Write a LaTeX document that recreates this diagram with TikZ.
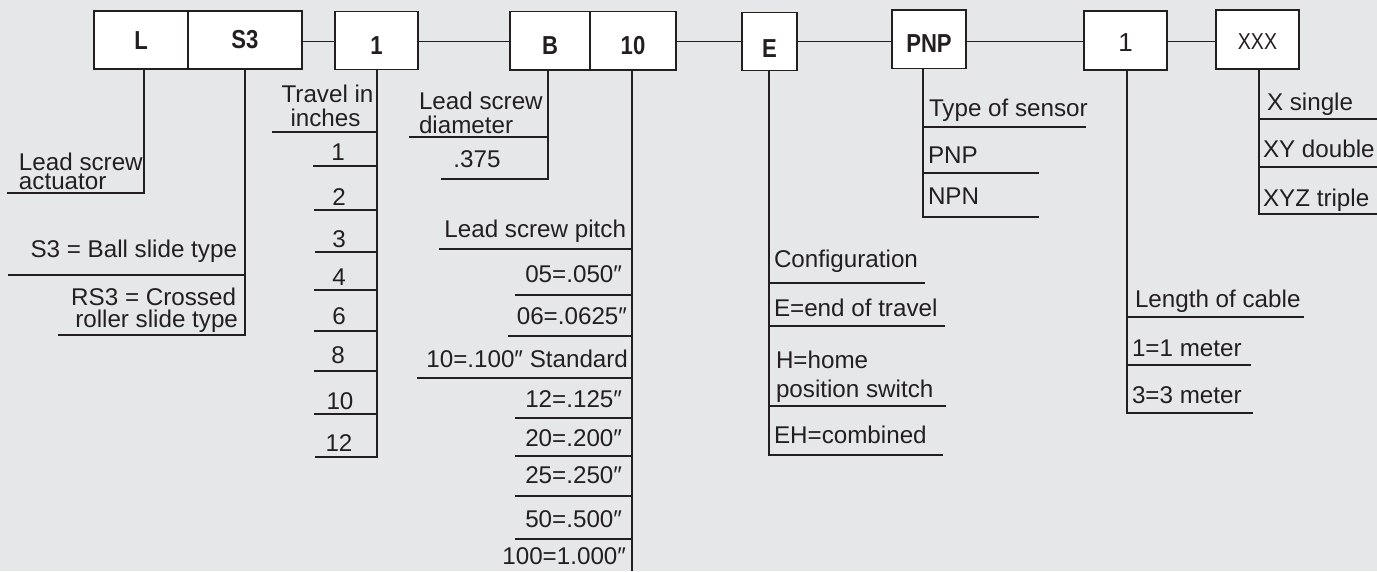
\documentclass[tikz,border=0pt]{standalone}
\usepackage{fontspec}
\setmainfont{Liberation Sans}
\usepackage{graphicx}
\definecolor{bg}{HTML}{E6E7E8}
\definecolor{ink}{HTML}{231F20}
\newcommand\cond[1]{\scalebox{0.85}[1]{#1}}
\tikzset{
  box/.style={draw=ink, fill=white, line width=1.5pt, inner sep=0pt, outer sep=0pt,
    text depth=0pt, text=ink, font=\fontsize{26}{26}\selectfont\bfseries},
  ln/.style={draw=ink, line width=1.3pt},
  lab/.style={inner sep=0pt, outer sep=0pt, text=ink, font=\fontsize{24.2}{24.2}\selectfont},
}
\begin{document}
\begin{tikzpicture}[x=1pt,y=-1pt]
\fill[bg] (0,0) rectangle (1377,571);
\useasboundingbox (0,0) rectangle (1377,571);

% ---- code boxes
\node[box, minimum width=94pt, minimum height=58pt, text height=18pt] (L) at (141,40) {\cond{L}};
\node[box, minimum width=114pt, minimum height=58pt, text height=17pt] (S3) at (245,40) {\cond{S3}};
\node[box, minimum width=83pt, minimum height=58pt, text height=27pt] (T1) at (376.5,40.5) {\cond{1}};
\node[box, minimum width=80pt, minimum height=58.5pt, text height=26.5pt] (B) at (550,40.75) {\cond{B}};
\node[box, minimum width=86pt, minimum height=58.5pt, text height=26.5pt] (P10) at (633,40.75) {\cond{10}};
\node[box, minimum width=55pt, minimum height=58pt, text height=31pt] (E) at (769.5,41.5) {\cond{E}};
\node[box, minimum width=74pt, minimum height=58.5pt, text height=25.5pt] (PNP) at (929,39.25) {\cond{PNP}};
\node[box, minimum width=83pt, minimum height=59pt, text height=21pt, font=\fontsize{26}{26}\selectfont] (C1) at (1125.5,40.5) {1};
\node[box, minimum width=83pt, minimum height=59pt, text height=19pt, font=\fontsize{23}{23}\selectfont] (XXX) at (1257.5,39.5) {\cond{XXX}};

% ---- connectors between boxes
\coordinate (row) at (0,41.5);
\draw[ln] (S3.east |- row) -- (T1.west |- row);
\draw[ln] (T1.east |- row) -- (B.west |- row);
\draw[ln] (P10.east |- row) -- (E.west |- row);
\draw[ln] (E.east |- row) -- (PNP.west |- row);
\draw[ln] (PNP.east |- row) -- (C1.west |- row);
\draw[ln] (C1.east |- row) -- (XXX.west |- row);

% ---- L
\coordinate (Lb) at (144,193);
\draw[ln] (L.south -| Lb) -- (Lb) -- (7,193);
\node[lab, anchor=base west] (Lt1) at (19,170.5) {Lead screw};
\node[lab, anchor=base west] (Lt2) at (19,189) {actuator};

% ---- S3
\coordinate (Sb) at (245,335);
\draw[ln] (S3.south -| Sb) -- (Sb) -- (58,335);
\draw[ln] (8,275) -- (245,275);
\node[lab, anchor=base east] (St1) at (237,257) {S3 = Ball slide type};
\node[lab, anchor=base east] (St2) at (236,305) {RS3 = Crossed};
\node[lab, anchor=base east] (St3) at (238,327) {roller slide type};

% ---- travel
\coordinate (Tb) at (377,457);
\draw[ln] (T1.south -| Tb) -- (Tb) -- (315,457);
\foreach \y/\x in {132/272,166/313,210/314,252/315,290/314,331/314,371/314,414/314}
  \draw[ln] (\x,\y) -- (377,\y);
\node[lab, anchor=base] (Tt1) at (327.5,102) {Travel in};
\node[lab, anchor=base] (Tt2) at (325.5,126) {inches};
\node[lab, anchor=base] (Tv1) at (338,160) {1};
\node[lab, anchor=base] (Tv2) at (339,205) {2};
\node[lab, anchor=base] (Tv3) at (339,247) {3};
\node[lab, anchor=base] (Tv4) at (339,285) {4};
\node[lab, anchor=base] (Tv6) at (339,324) {6};
\node[lab, anchor=base] (Tv8) at (338,363) {8};
\node[lab, anchor=base] (Tv10) at (340,409) {10};
\node[lab, anchor=base] (Tv12) at (339,451) {12};

% ---- B diameter
\coordinate (Bb) at (548,179);
\draw[ln] (B.south -| Bb) -- (Bb) -- (441,179);
\draw[ln] (409,137) -- (548,137);
\node[lab, anchor=base west] (Bt1) at (419,109) {Lead screw};
\node[lab, anchor=base west] (Bt2) at (419,133) {diameter};
\node[lab, anchor=base] (Bv) at (477,167) {.375};

% ---- pitch
\coordinate (Pb) at (632,571);
\draw[ln] (P10.south -| Pb) -- (Pb);
\foreach \y/\x in {249/439,295/515,336/508,378/417,418/515,456/515,496/515,539/515}
  \draw[ln] (\x,\y) -- (632,\y);
\node[lab, anchor=base east] (Pt) at (626,237) {Lead screw pitch};
\node[lab, anchor=base east] (Pv1) at (622,282) {05=.050″};
\node[lab, anchor=base east] (Pv2) at (627,324) {06=.0625″};
\node[lab, anchor=base east] (Pv3) at (628,367) {10=.100″ Standard};
\node[lab, anchor=base east] (Pv4) at (622,407) {12=.125″};
\node[lab, anchor=base east] (Pv5) at (622,446) {20=.200″};
\node[lab, anchor=base east] (Pv6) at (622,483) {25=.250″};
\node[lab, anchor=base east] (Pv7) at (622,527) {50=.500″};
\node[lab, anchor=base east] (Pv8) at (626,564) {100=1.000″};

% ---- configuration
\coordinate (Eb) at (769,455);
\draw[ln] (E.south -| Eb) -- (Eb) -- (943,455);
\draw[ln] (769,283) -- (925,283);
\draw[ln] (769,326) -- (945,326);
\draw[ln] (769,406) -- (946,406);
\node[lab, anchor=base west] (Et) at (774,267) {Configuration};
\node[lab, anchor=base west] (Ev1) at (774,316) {E=end of travel};
\node[lab, anchor=base west] (Ev2a) at (776,368) {H=home};
\node[lab, anchor=base west] (Ev2b) at (776,397) {position switch};
\node[lab, anchor=base west] (Ev3) at (774,443) {EH=combined};

% ---- sensor
\coordinate (Nb) at (923,217);
\draw[ln] (PNP.south -| Nb) -- (Nb) -- (1039,217);
\draw[ln] (923,127) -- (1086,127);
\draw[ln] (923,173) -- (1039,173);
\node[lab, anchor=base west] (Nt) at (929,116.5) {Type of sensor};
\node[lab, anchor=base west] (Nv1) at (928,163) {PNP};
\node[lab, anchor=base west] (Nv2) at (928,204) {NPN};

% ---- cable
\coordinate (Cb) at (1127,413);
\draw[ln] (C1.south -| Cb) -- (Cb) -- (1253,413);
\draw[ln] (1127,317) -- (1304,317);
\draw[ln] (1127,365) -- (1251,365);
\node[lab, anchor=base west] (Ct) at (1135,307) {Length of cable};
\node[lab, anchor=base west] (Cv1) at (1132,356) {1=1 meter};
\node[lab, anchor=base west] (Cv2) at (1132,403) {3=3 meter};

% ---- axes
\coordinate (Xb) at (1259,214);
\draw[ln] (XXX.south -| Xb) -- (Xb) -- (1377,214);
\draw[ln] (1259,119) -- (1377,119);
\draw[ln] (1259,167) -- (1377,167);
\node[lab, anchor=base west] (Xv1) at (1267,110) {X single};
\node[lab, anchor=base west] (Xv2) at (1263,157) {XY double};
\node[lab, anchor=base west] (Xv3) at (1263,206) {XYZ triple};
\end{tikzpicture}
\end{document}
